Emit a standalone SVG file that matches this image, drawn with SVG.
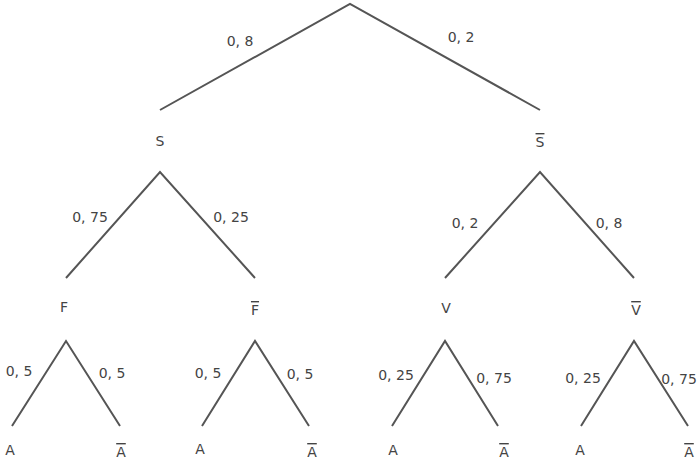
<svg xmlns="http://www.w3.org/2000/svg" width="698" height="462" viewBox="0 0 698 462">
<style>
.e{stroke:#555;stroke-width:2;fill:none}
text{font-family:"DejaVu Sans","Liberation Sans",sans-serif;font-size:14px;fill:#444;text-anchor:middle;dominant-baseline:middle}
.o{text-decoration:overline}
</style>
<rect width="698" height="462" fill="#fff"/>
<g id="connectors">
<path class="e" d="M160,110L350,4L540,110"/>
<path class="e" d="M66,278L160,172L255,278"/>
<path class="e" d="M445,278L540,172L634,278"/>
<path class="e" d="M12,426L66,341L120,426"/>
<path class="e" d="M202,426L255,341L309,426"/>
<path class="e" d="M392,426L445,341L498,426"/>
<path class="e" d="M581,426L634,341L688,426"/>
<text x="240" y="42">0, 8</text><text x="461" y="38">0, 2</text>
<text x="90" y="218">0, 75</text><text x="231" y="218">0, 25</text>
<text x="465" y="224">0, 2</text><text x="609" y="224">0, 8</text>
<text x="19" y="372">0, 5</text><text x="112" y="374">0, 5</text>
<text x="208" y="374">0, 5</text><text x="300" y="375">0, 5</text>
<text x="396" y="376">0, 25</text><text x="494" y="379">0, 75</text>
<text x="583" y="379">0, 25</text><text x="679" y="380">0, 75</text>
</g>
<g id="S"><text x="160" y="142">S</text></g>
<g id="Sbar"><text class="o" x="540" y="143">S</text></g>
<g id="F"><text x="64" y="308">F</text></g>
<g id="Fbar"><text class="o" x="255" y="311">F</text></g>
<g id="V"><text x="446" y="309">V</text></g>
<g id="Vbar"><text class="o" x="636" y="311">V</text></g>
<g id="A1"><text x="10" y="451">A</text></g>
<g id="A1bar"><text class="o" x="121" y="453">A</text></g>
<g id="A2"><text x="200" y="450">A</text></g>
<g id="A2bar"><text class="o" x="312" y="453">A</text></g>
<g id="A3"><text x="393" y="451">A</text></g>
<g id="A3bar"><text class="o" x="504" y="453">A</text></g>
<g id="A4"><text x="580" y="451">A</text></g>
<g id="A4bar"><text class="o" x="689" y="453">A</text></g>
</svg>
